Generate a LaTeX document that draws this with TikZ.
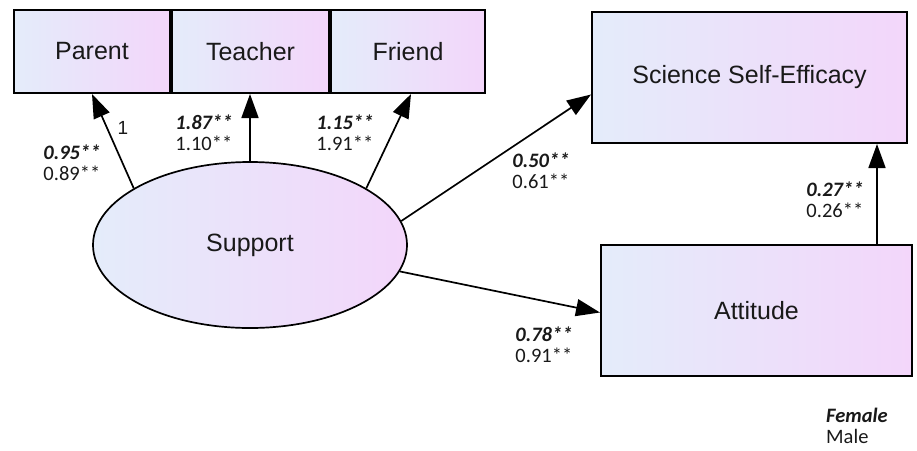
\documentclass[tikz,border=0pt]{standalone}
\usepackage{fontspec}
\usepackage{tikz}
\usetikzlibrary{positioning, arrows.meta, calc, shapes.geometric}
\setmainfont{Liberation Sans}
\newfontfamily\coeffont{Carlito}
\definecolor{boxleft}{RGB}{228,236,250}
\definecolor{boxright}{RGB}{243,214,250}
\definecolor{inktext}{RGB}{25,25,25}
\tikzset{
  measure/.style={
    rectangle, draw=black, line width=2pt, inner sep=0pt,
    left color=boxleft, right color=boxright,
    font=\fontsize{25}{28}\selectfont, text=inktext
  },
  latent/.style={
    ellipse, draw=black, line width=1.7pt, inner sep=0pt,
    minimum width=314pt, minimum height=166pt,
    left color=boxleft, right color=boxright,
    font=\fontsize{25}{28}\selectfont, text=inktext
  },
  path arrow/.style={draw, line width=1.7pt, -{Triangle[length=24pt, width=17pt]}},
  coef/.style={align=left, inner sep=0pt, text=inktext,
    font=\coeffont\fontsize{20.5}{21}\selectfont},
}
\newcommand{\fem}[1]{\textbf{\textit{#1}}}

\begin{document}
\begin{tikzpicture}[x=1pt, y=-1pt]
  \useasboundingbox (0,0) rectangle (917,450);

  % indicators
  \node[measure, minimum width=156pt, minimum height=83pt] (Parent) at (92,51.5) {Parent};
  \node[measure, minimum width=157pt, minimum height=83pt, right=0pt of Parent] (Teacher) {Teacher};
  \node[measure, minimum width=154pt, minimum height=83pt, right=0pt of Teacher] (Friend) {Friend};

  % latent factor and outcomes
  \node[latent] (Support) at (250,245) {Support};
  \node[measure, minimum width=315pt, minimum height=131pt] (SSE) at (749.5,77.5) {Science Self-Efficacy};
  \node[measure, minimum width=311pt, minimum height=131pt] (Attitude) at (756.5,310.5) {Attitude};

  % loadings
  \draw[path arrow] (Support.154) -- (Parent.south);
  \draw[path arrow] (Support.north) -- (Support.north |- Teacher.south);
  \draw[path arrow] (Support.26) -- ([xshift=3pt]Friend.south);

  % structural paths
  \draw[path arrow] (Support.9.7) -- ([yshift=-17pt]SSE.west);
  \draw[path arrow] (Support.-10.6) -- ([yshift=-2pt]Attitude.west);
  \draw[path arrow] ([xshift=120.5pt]Attitude.north) -- ([xshift=120.5pt]Attitude.north |- SSE.south);

  % coefficients (female / male)
  \node[inner sep=0pt, text=inktext, font=\fontsize{19}{20}\selectfont] (fix) at (123,128) {1};
  \node[coef] (cParent) at (72,163) {\fem{0.95**}\\0.89**};
  \node[coef] (cTeacher) at (204,133) {\fem{1.87**}\\1.10**};
  \node[coef] (cFriend) at (345,133) {\fem{1.15**}\\1.91**};
  \node[coef] (cSSE) at (541,171) {\fem{0.50**}\\0.61**};
  \node[coef] (cAtt) at (835,200) {\fem{0.27**}\\0.26**};
  \node[coef] (cSupAtt) at (544,345) {\fem{0.78**}\\0.91**};

  % legend
  \node[coef, anchor=west] (legend) at (826,426) {\fem{Female}\\Male};
\end{tikzpicture}
\end{document}
